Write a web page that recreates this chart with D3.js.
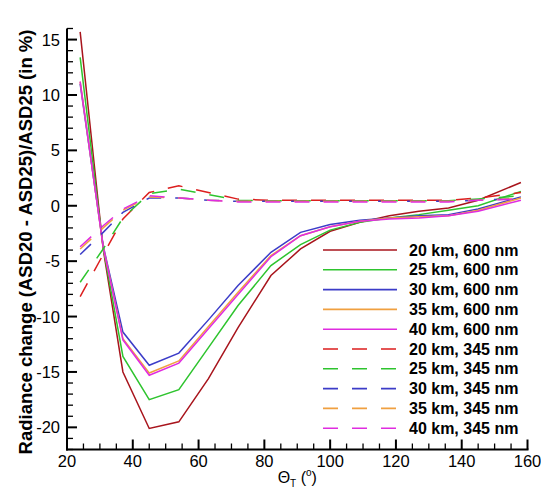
<!DOCTYPE html>
<html><head><meta charset="utf-8">
<script src="https://cdn.jsdelivr.net/npm/d3@7"></script>
<style>
body{margin:0;background:#fff;}
svg{display:block;font-family:"Liberation Sans",Arial,sans-serif;}
</style></head>
<body><svg id="c" width="541" height="489"></svg>
<script>
const theta = [24, 31, 37, 45, 54, 63, 72, 82, 91, 100, 109, 118, 127, 136, 145, 158];
const solid20 = [15.7, -3.9, -15.0, -20.1, -19.5, -15.6, -11.0, -6.3, -3.9, -2.3, -1.5, -0.9, -0.5, -0.2, 0.5, 2.1];
const solid25 = [13.4, -3.8, -13.6, -17.5, -16.6, -12.8, -9.0, -5.4, -3.5, -2.2, -1.5, -1.1, -0.8, -0.4, 0.0, 1.3];
const solid30 = [11.0, -3.6, -11.4, -14.4, -13.3, -10.3, -7.2, -4.2, -2.4, -1.7, -1.3, -1.1, -0.9, -0.8, -0.3, 0.8];
const solid35 = [11.2, -3.7, -12.0, -15.1, -14.0, -10.9, -7.8, -4.5, -2.7, -1.9, -1.4, -1.1, -1.0, -0.9, -0.4, 0.7];
const solid40 = [11.2, -3.7, -12.1, -15.3, -14.2, -11.1, -8.0, -4.6, -2.7, -1.9, -1.4, -1.2, -1.1, -0.9, -0.5, 0.5];
const dash20 = [-8.2, -4.4, -1.2, 1.2, 1.8, 1.2, 0.6, 0.5, 0.5, 0.5, 0.5, 0.5, 0.5, 0.5, 0.7, 1.2];
const dash25 = [-6.9, -3.9, -1.1, 1.1, 1.5, 1.0, 0.5, 0.45, 0.45, 0.45, 0.45, 0.45, 0.45, 0.45, 0.6, 0.9];
const dash30 = [-4.4, -2.4, -0.6, 0.7, 0.7, 0.5, 0.4, 0.4, 0.4, 0.4, 0.4, 0.4, 0.4, 0.4, 0.5, 0.65];
const dash35 = [-3.9, -2.0, -0.4, 0.8, 0.7, 0.5, 0.4, 0.4, 0.4, 0.4, 0.4, 0.4, 0.4, 0.4, 0.5, 0.65];
const dash40 = [-3.7, -1.8, -0.3, 0.9, 0.7, 0.5, 0.35, 0.35, 0.35, 0.35, 0.35, 0.35, 0.35, 0.35, 0.5, 0.6];
const seriesNames = ["20 km, 600 nm","25 km, 600 nm","30 km, 600 nm","35 km, 600 nm","40 km, 600 nm",
                     "20 km, 345 nm","25 km, 345 nm","30 km, 345 nm","35 km, 345 nm","40 km, 345 nm"];
const seriesValues = [solid20, solid25, solid30, solid35, solid40, dash20, dash25, dash30, dash35, dash40];
const seriesColors = ["#a8141c","#2ec42e","#3c3cc8","#f0a040","#e02ce0",
                      "#dc1e1e","#2ec42e","#3c3cc8","#f0a040","#e02ce0"];
const seriesDashed = [false,false,false,false,false,true,true,true,true,true];
const xTicks = [20, 40, 60, 80, 100, 120, 140, 160];
const yTicks = [-20, -15, -10, -5, 0, 5, 10, 15];

const svg = d3.select("#c");
const x = d3.scaleLinear().domain([20, 160]).range([67, 527.5]);
const y = d3.scaleLinear().domain([-22, 16]).range([449.5, 28.5]);

const line = d3.line().x(d => x(d[0])).y(d => y(d[1]));
const g = svg.append("g");
seriesValues.forEach((vals, i) => {
  g.append("path")
    .datum(theta.map((t, k) => [t, vals[k]]))
    .attr("d", line)
    .attr("fill", "none")
    .attr("stroke", seriesColors[i])
    .attr("stroke-width", 1.5)
    .attr("stroke-dasharray", seriesDashed[i] ? "15,14" : null);
});

// axes (manual ticks, inward)
const xMinor = d3.range(20, 161, 5).filter(v => !xTicks.includes(v));
const yMinor = d3.range(-22, 17, 1).filter(v => !yTicks.includes(v));
const axg = svg.append("g").attr("stroke", "#000");
const x0 = x(20), yb = y(-22);
axg.append("line").attr("x1", x0).attr("x2", x0).attr("y1", y(16)).attr("y2", yb + 1).attr("stroke-width", 2);
axg.append("line").attr("x1", x0 - 1).attr("x2", x(160) + 1).attr("y1", yb).attr("y2", yb).attr("stroke-width", 2);
xTicks.forEach(v => axg.append("line").attr("x1", x(v)).attr("x2", x(v)).attr("y1", yb).attr("y2", yb - 10).attr("stroke-width", 2));
xMinor.forEach(v => axg.append("line").attr("x1", x(v)).attr("x2", x(v)).attr("y1", yb).attr("y2", yb - 6).attr("stroke-width", 1.3));
yTicks.forEach(v => axg.append("line").attr("x1", x0).attr("x2", x0 + 10).attr("y1", y(v)).attr("y2", y(v)).attr("stroke-width", 2));
yMinor.forEach(v => axg.append("line").attr("x1", x0).attr("x2", x0 + 6).attr("y1", y(v)).attr("y2", y(v)).attr("stroke-width", 1.3));

svg.append("g").selectAll("text").data(xTicks).join("text")
  .attr("x", d => x(d)).attr("y", 467).attr("text-anchor", "middle")
  .attr("font-size", 16.5).text(d => d);
svg.append("g").selectAll("text").data(yTicks).join("text")
  .attr("x", 60).attr("y", d => y(d) + 6).attr("text-anchor", "end")
  .attr("font-size", 16.5).text(d => d);

// y title
svg.append("text")
  .attr("transform", `translate(32,${(y(-22)+y(16))/2 + 3}) rotate(-90)`)
  .attr("text-anchor", "middle")
  .attr("font-size", 18.5).attr("font-weight", "bold")
  .text("Radiance change (ASD20 - ASD25)/ASD25 (in %)");

// x title
const xt = svg.append("text").attr("x", (x(20)+x(160))/2).attr("y", 483)
  .attr("text-anchor", "middle").attr("font-size", 16);
xt.append("tspan").text("Θ");
xt.append("tspan").attr("font-size", 10).attr("dy", 4).text("T");
xt.append("tspan").attr("dy", -4).text(" (");
xt.append("tspan").attr("font-size", 10).attr("dy", -7).text("o");
xt.append("tspan").attr("dy", 7).text(")");

// legend
const lg = svg.append("g");
seriesNames.forEach((name, i) => {
  const yy = 250 + i * 19.8;
  lg.append("line").attr("x1", 323).attr("x2", 397).attr("y1", yy).attr("y2", yy)
    .attr("stroke", seriesColors[i]).attr("stroke-width", 1.6)
    .attr("stroke-dasharray", seriesDashed[i] ? "15,14" : null);
  lg.append("text").attr("x", 409).attr("y", yy + 5.5)
    .attr("font-size", 16).attr("font-weight", "bold").text(name);
});
</script></body></html>
